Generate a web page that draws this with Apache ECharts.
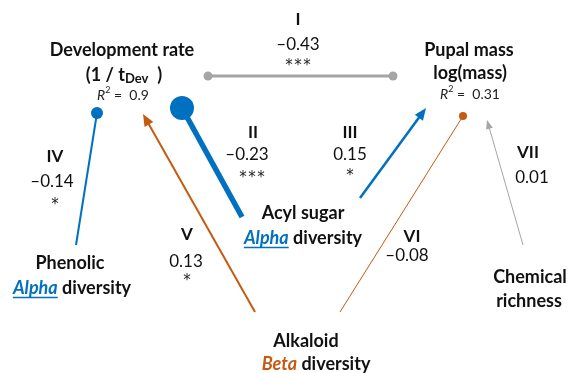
<!DOCTYPE html>
<html><head><meta charset="utf-8">
<script src="https://cdn.jsdelivr.net/npm/echarts@6/dist/echarts.min.js"></script>
<style>html,body{margin:0;padding:0;background:#fff}#c{width:568px;height:373px}</style>
</head><body><div id="c"></div>
<script>
// ---------------- data ----------------
const pathIds   = ['I','II','III','IV','V','VI','VII'];
const pathCoefs = ['\u20130.43','\u20130.23','0.15','\u20130.14','0.13','\u20130.08','0.01'];
const pathSig   = ['***','***','*','*','*','',''];
const responseNames = ['Development rate','Pupal mass'];
const rSquared  = ['0.9','0.31'];
const predictorNames = ['Phenolic','Acyl sugar','Alkaloid','Chemical'];
const predictorKinds = ['Alpha','Alpha','Beta',''];
const predictorTails = [' diversity',' diversity',' diversity','richness'];

// ---------------- layout (positions in the hidden axes' space) ----------------
const pathEnds = [[208,76,393,76],[242,217,182,108],[360,198,426,108],[76,245,97,113],[255,312,143,114],[340,312,463,116],[523,245,487,120]];
const pathLook = [
  {c:'#a5a5a5',w:3,head:'dots',r:4.5},
  {c:'#0070c0',w:5.5,head:'dot',r:12},
  {c:'#0070c0',w:2.5,head:'arrow',al:12,aw:10},
  {c:'#0070c0',w:2,head:'dot',r:6},
  {c:'#c55a11',w:2,head:'arrow',al:12,aw:10},
  {c:'#c55a11',w:1,head:'dot',r:4},
  {c:'#a5a5a5',w:1,head:'arrow',al:9,aw:7}
];
const idPos   = [[298,20],[253,133],[350,133],[55,157],[187,235],[412,237],[528,153]];
const coefPos = [[298,45],[247,155],[350,155],[52,182],[186,262],[407,256],[532,178]];
const sigPos  = [[298,63],[252,175],[350,173],[55,202],[187,278],null,null];
const respPos = [[[122,50],[124,75],[123,95]],[[469,50],[470,73],[470,94]]];
const predPos = [[[70,263],[72,288]],[[303,213],[303,238]],[[306,341],[316,364]],[[530,277],[529,301]]];

const FF = 'Lato, "Noto Sans", sans-serif';
const S = {
  node:{font:'bold 18px '+FF, fill:'#111'},
  sub:{font:'bold 13px '+FF, fill:'#111', dy:4},
  r2i:{font:'italic 14px '+FF, fill:'#222'},
  sup:{font:'9px '+FF, fill:'#222', dy:-5},
  r2:{font:'14px '+FF, fill:'#222'},
  id:{font:'bold 17px '+FF, fill:'#111'},
  coef:{font:'17px '+FF, fill:'#111'},
  sig:{font:'15px "DejaVu Sans", sans-serif', fill:'#222', dy:3},
  Alpha:{font:'italic bold 18px '+FF, fill:'#0070c0', ul:true},
  Beta:{font:'italic bold 18px '+FF, fill:'#c55a11'}
};

// build text items
const texts = [];
pathIds.forEach((id,i)=>{
  texts.push({p:idPos[i], segs:[{t:id,s:'id'}]});
  texts.push({p:coefPos[i], segs:[{t:pathCoefs[i],s:'coef'}]});
  if (pathSig[i]) texts.push({p:sigPos[i], segs:[{t:pathSig[i].split('').join('\u200a'),s:'sig'}]});
});
responseNames.forEach((n,i)=>{
  texts.push({p:respPos[i][0], segs:[{t:n,s:'node'}]});
  if (i===0) texts.push({p:respPos[i][1], segs:[{t:'(1 / t',s:'node'},{t:'Dev',s:'sub'},{t:'  )',s:'node'}]});
  else texts.push({p:respPos[i][1], segs:[{t:'log(mass)',s:'node'}]});
  texts.push({p:respPos[i][2], segs:[{t:'R',s:'r2i'},{t:'2',s:'sup'},{t:' =  '+rSquared[i],s:'r2'}]});
});
predictorNames.forEach((n,i)=>{
  texts.push({p:predPos[i][0], segs:[{t:n,s:'node'}]});
  const segs = [];
  if (predictorKinds[i]) segs.push({t:predictorKinds[i],s:predictorKinds[i]});
  segs.push({t:predictorTails[i],s:'node'});
  texts.push({p:predPos[i][1], segs});
});

const mctx = document.createElement('canvas').getContext('2d');
function tw(t,font){ mctx.font=font; return mctx.measureText(t).width; }

const chart = echarts.init(document.getElementById('c'), null, {renderer:'canvas'});
chart.setOption({
  animation:false,
  backgroundColor:'#fff',
  grid:{left:0,right:0,top:0,bottom:0},
  xAxis:{type:'value',min:0,max:568,show:false},
  yAxis:{type:'value',min:0,max:373,inverse:true,show:false},
  series:[
    {
      type:'custom', coordinateSystem:'cartesian2d',
      data: pathEnds,
      encode:{x:[0,2],y:[1,3]},
      renderItem(params, api){
        const L = pathLook[params.dataIndex];
        const a = api.coord([api.value(0),api.value(1)]);
        const b = api.coord([api.value(2),api.value(3)]);
        const dx=b[0]-a[0], dy=b[1]-a[1], len=Math.hypot(dx,dy);
        const ux=dx/len, uy=dy/len, nx=-uy, ny=ux;
        const ch=[];
        let end=b;
        if (L.head==='arrow') end=[b[0]-ux*L.al*0.8, b[1]-uy*L.al*0.8];
        ch.push({type:'line',shape:{x1:a[0],y1:a[1],x2:end[0],y2:end[1]},style:{stroke:L.c,lineWidth:L.w}});
        if (L.head==='arrow'){
          const bx=b[0]-ux*L.al, by=b[1]-uy*L.al;
          ch.push({type:'polygon',shape:{points:[[b[0],b[1]],[bx+nx*L.aw/2,by+ny*L.aw/2],[bx-nx*L.aw/2,by-ny*L.aw/2]]},style:{fill:L.c}});
        } else {
          ch.push({type:'circle',shape:{cx:b[0],cy:b[1],r:L.r},style:{fill:L.c}});
          if (L.head==='dots') ch.push({type:'circle',shape:{cx:a[0],cy:a[1],r:L.r},style:{fill:L.c}});
        }
        return {type:'group',children:ch};
      }
    },
    {
      type:'custom', coordinateSystem:'cartesian2d',
      data: texts.map(t=>t.p),
      encode:{x:0,y:1},
      renderItem(params, api){
        const item = texts[params.dataIndex];
        const c = api.coord([api.value(0),api.value(1)]);
        const widths = item.segs.map(s=>tw(s.t,S[s.s].font));
        const total = widths.reduce((u,v)=>u+v,0);
        let x = c[0]-total/2;
        const ch=[];
        item.segs.forEach((s,k)=>{
          const st=S[s.s];
          ch.push({type:'text',x:x,y:c[1]+(st.dy||0),style:{text:s.t,font:st.font,fill:st.fill,align:'left',verticalAlign:'middle'}});
          if (st.ul) ch.push({type:'line',shape:{x1:x,y1:c[1]+9.5,x2:x+widths[k],y2:c[1]+9.5},style:{stroke:st.fill,lineWidth:1.5}});
          x+=widths[k];
        });
        return {type:'group',children:ch};
      }
    }
  ]
});
</script></body></html>
